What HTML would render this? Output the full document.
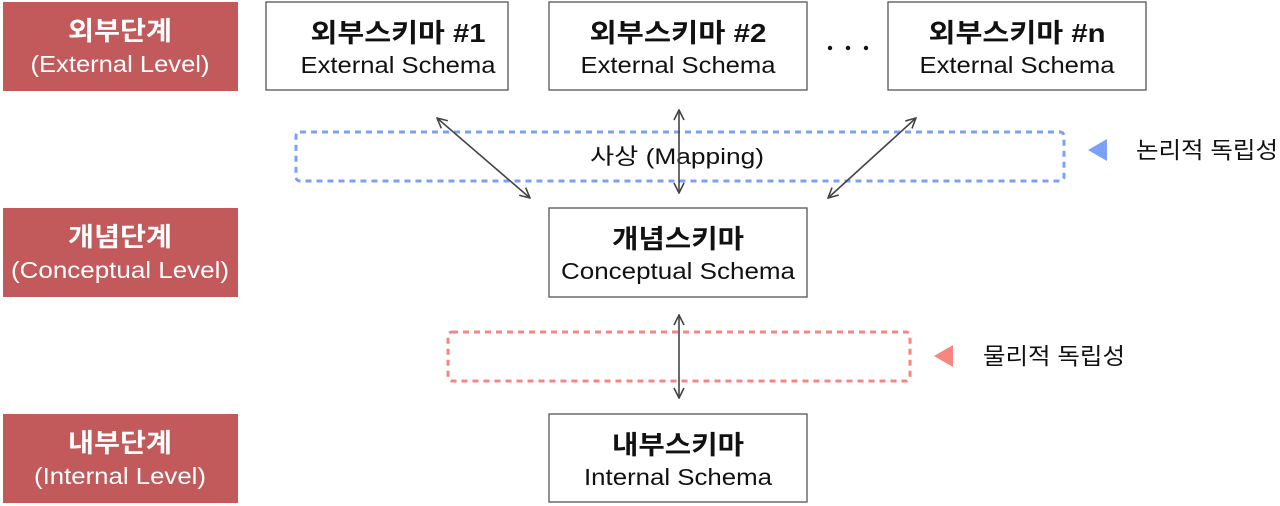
<!DOCTYPE html>
<html><head><meta charset="utf-8"><style>
body{margin:0;background:#fff;}
svg{display:block;font-family:"Liberation Sans","Noto Sans CJK KR",sans-serif;}
</style></head><body>
<svg width="1280" height="506" viewBox="0 0 1280 506">
<defs>
<marker id="a" viewBox="0 0 12 12" refX="11" refY="6" markerWidth="12" markerHeight="12" orient="auto-start-reverse" markerUnits="userSpaceOnUse">
<path d="M1,1 L11,6 L1,11" fill="none" stroke="#444" stroke-width="1.6"/>
</marker>
</defs>
<g fill="#c2595a">
<rect x="3" y="2" width="235" height="89"/>
<rect x="3" y="208" width="235" height="89"/>
<rect x="3" y="414" width="235" height="89"/>
</g>
<g fill="#fff" text-anchor="middle" lengthAdjust="spacingAndGlyphs">
<text x="120" y="40" font-size="26" font-weight="bold" textLength="104" lengthAdjust="spacingAndGlyphs">외부단계</text>
<text x="120" y="72" font-size="23" textLength="179" lengthAdjust="spacingAndGlyphs">(External Level)</text>
<text x="120" y="246" font-size="26" font-weight="bold" textLength="104" lengthAdjust="spacingAndGlyphs">개념단계</text>
<text x="120" y="278" font-size="23" textLength="218" lengthAdjust="spacingAndGlyphs">(Conceptual Level)</text>
<text x="120" y="452" font-size="26" font-weight="bold" textLength="104" lengthAdjust="spacingAndGlyphs">내부단계</text>
<text x="120" y="484" font-size="23" textLength="172" lengthAdjust="spacingAndGlyphs">(Internal Level)</text>
</g>
<g fill="#fff" stroke="#555" stroke-width="1.3">
<rect x="266" y="2" width="242" height="88"/>
<rect x="549" y="2" width="258" height="88"/>
<rect x="888" y="2" width="258" height="88"/>
<rect x="549" y="208" width="258" height="89"/>
<rect x="549" y="414" width="258" height="88"/>
</g>
<g fill="#111" text-anchor="middle">
<text x="398" y="42" font-size="26" font-weight="bold" textLength="175" lengthAdjust="spacingAndGlyphs">외부스키마 #1</text>
<text x="398" y="73" font-size="23" textLength="195" lengthAdjust="spacingAndGlyphs">External Schema</text>
<text x="678" y="42" font-size="26" font-weight="bold" textLength="177" lengthAdjust="spacingAndGlyphs">외부스키마 #2</text>
<text x="678" y="73" font-size="23" textLength="195" lengthAdjust="spacingAndGlyphs">External Schema</text>
<text x="1017" y="42" font-size="26" font-weight="bold" textLength="177" lengthAdjust="spacingAndGlyphs">외부스키마 #n</text>
<text x="1017" y="73" font-size="23" textLength="195" lengthAdjust="spacingAndGlyphs">External Schema</text>
<text x="678" y="248" font-size="26" font-weight="bold" textLength="132" lengthAdjust="spacingAndGlyphs">개념스키마</text>
<text x="678" y="279" font-size="23" textLength="234" lengthAdjust="spacingAndGlyphs">Conceptual Schema</text>
<text x="678" y="454" font-size="26" font-weight="bold" textLength="132" lengthAdjust="spacingAndGlyphs">내부스키마</text>
<text x="678" y="485" font-size="23" textLength="188" lengthAdjust="spacingAndGlyphs">Internal Schema</text>
</g>
<g fill="#111"><circle cx="830" cy="48" r="2.2"/><circle cx="848" cy="48" r="2.2"/><circle cx="866" cy="48" r="2.2"/></g>
<rect x="296" y="132" width="768" height="49" rx="4" fill="none" stroke="#7aa0f8" stroke-width="3" stroke-dasharray="6 5"/>
<rect x="448" y="332" width="462" height="49" rx="4" fill="none" stroke="#f78580" stroke-width="3" stroke-dasharray="6 5"/>
<text x="677" y="164" font-size="22" text-anchor="middle" fill="#111" textLength="174" lengthAdjust="spacingAndGlyphs">사상 (Mapping)</text>
<g stroke="#444" stroke-width="1.6" marker-start="url(#a)" marker-end="url(#a)">
<line x1="437" y1="118" x2="530" y2="198"/>
<line x1="679" y1="110" x2="679" y2="193"/>
<line x1="916" y1="118" x2="828" y2="198"/>
<line x1="679" y1="315" x2="679" y2="398"/>
</g>
<polygon points="1088,150 1107,139 1107,161" fill="#7aa0f8"/>
<text x="1136" y="158" font-size="23" fill="#111" textLength="142" lengthAdjust="spacingAndGlyphs">논리적 독립성</text>
<polygon points="934,356 953,345 953,367" fill="#f78580"/>
<text x="983" y="364" font-size="23" fill="#111" textLength="142" lengthAdjust="spacingAndGlyphs">물리적 독립성</text>
</svg>
</body></html>
